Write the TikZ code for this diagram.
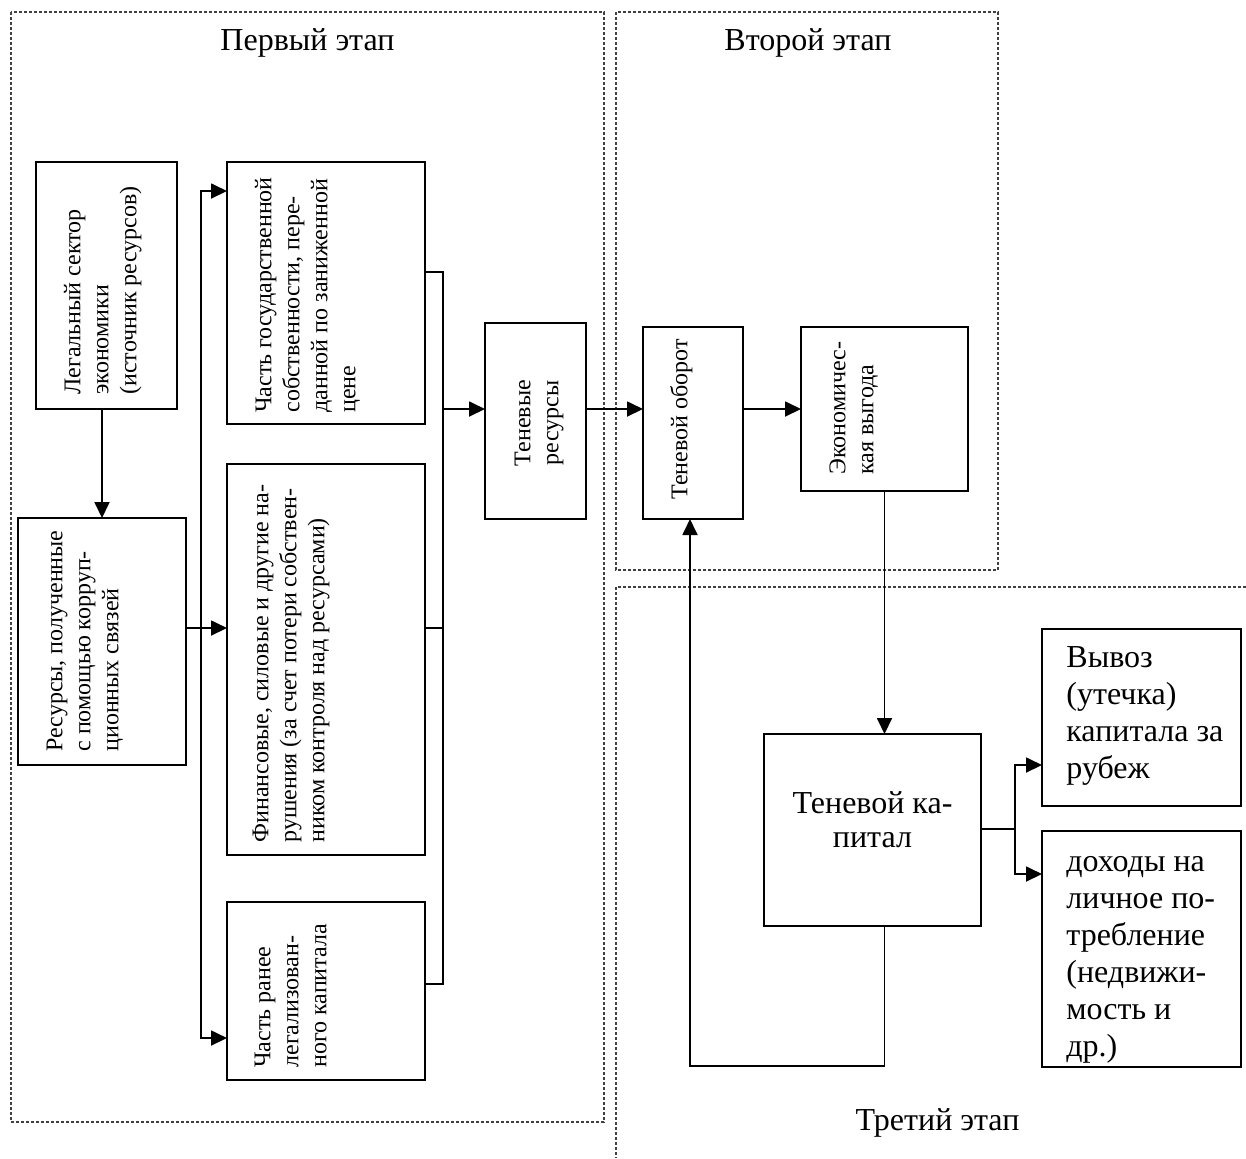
\documentclass[tikz,border=0pt]{standalone}
\usepackage{fontspec}
\setmainfont{Liberation Serif}
\usetikzlibrary{arrows.meta}
\begin{document}
\begin{tikzpicture}[x=0.5pt,y=-0.5pt,
  box/.style={draw, line width=1pt, inner sep=0pt, outer sep=0pt, anchor=north west},
  rtext/.style={rotate=90, anchor=north west, inner sep=0pt, align=left, font=\fontsize{12}{14}\selectfont},
  htext/.style={inner sep=0pt, align=left, anchor=north west, font=\fontsize{16}{18.5}\selectfont},
  conn/.style={line width=0.9pt},
  arr/.style={conn, -{Triangle[length=8pt,width=7.5pt]}},
  stageframe/.style={line width=0.6pt, dash pattern=on 1.5pt off 1pt, black!75},
  stagetitle/.style={font=\fontsize{16}{18}\selectfont, anchor=base, inner sep=0pt}]

\useasboundingbox (0,0) rectangle (1246,1158);

% stage frames
\draw[stageframe] (11,12) rectangle (604,1122);
\draw[stageframe] (616,12) rectangle (998,570);
\draw[stageframe] (1246,587) -- (616,587) -- (616,1158);

% titles
\node[stagetitle] (t1) at (307.5,50) {Первый этап};
\node[stagetitle] (t2) at (808,50) {Второй этап};
\node[stagetitle] (t3) at (937.5,1130) {Третий этап};

% boxes
\node[box, minimum width={141*0.5pt}, minimum height={247*0.5pt}] (legal) at (36,162) {};
\node[box, minimum width={168*0.5pt}, minimum height={247*0.5pt}] (res) at (18,518) {};
\node[box, minimum width={198*0.5pt}, minimum height={262*0.5pt}] (state) at (227,162) {};
\node[box, minimum width={198*0.5pt}, minimum height={391*0.5pt}] (fin) at (227,464) {};
\node[box, minimum width={198*0.5pt}, minimum height={178*0.5pt}] (part) at (227,902) {};
\node[box, minimum width={101*0.5pt}, minimum height={196*0.5pt}] (shres) at (485,323) {};
\node[box, minimum width={100*0.5pt}, minimum height={192*0.5pt}] (turn) at (643,327) {};
\node[box, minimum width={167*0.5pt}, minimum height={164*0.5pt}] (econ) at (801,327) {};
\node[box, minimum width={217*0.5pt}, minimum height={192*0.5pt}] (cap) at (764,734) {};
\node[box, minimum width={199*0.5pt}, minimum height={177*0.5pt}] (exp) at (1042,629) {};
\node[box, minimum width={199*0.5pt}, minimum height={236*0.5pt}] (inc) at (1042,831) {};

% texts
\node[rtext] (tlegal) at (60.4,395) {\strut Легальный сектор\\экономики\\(источник ресурсов)};
\node[rtext] (tres) at (42.4,752) {\strut Ресурсы, полученные\\с помощью корруп-\\ционных связей};
\node[rtext] (tstate) at (251.4,413) {\strut Часть государственной\\собственности, пере-\\данной по заниженной\\цене};
\node[rtext] (tfin) at (248.4,843) {\strut Финансовые, силовые и другие на-\\рушения (за счет потери собствен-\\ником контроля над ресурсами)};
\node[rtext] (tpart) at (250.4,1068) {\strut Часть ранее\\легализован-\\ного капитала};
\node[rtext, align=center, anchor=north] (tshres) at (510.4,423) {\strut Теневые\\ресурсы};
\node[rtext] (tturn) at (667.4,500) {\strut Теневой оборот};
\node[rtext] (tecon) at (825.4,475) {\strut Экономичес-\\кая выгода};
\node[htext, align=center, anchor=north, font=\fontsize{16}{17}\selectfont] (tcap) at (872.5,789) {\strut Теневой ка-\\питал};
\node[htext] (texp) at (1066,641) {\strut Вывоз\\(утечка)\\капитала за\\рубеж};
\node[htext] (tinc) at (1066,845) {\strut доходы на\\личное по-\\требление\\(недвижи-\\мость и\\др.)};

% helper coordinates
\coordinate (busL) at (201,628);
\coordinate (a3) at (227,191);
\coordinate (a5) at (227,1038);
\coordinate (busR) at (443,409);
\coordinate (o3) at (425,272);
\coordinate (o4) at (425,628);
\coordinate (o5) at (425,984);
\coordinate (lb) at (690,1066);
\coordinate (br) at (1015,829);
\coordinate (e1) at (1042,765);
\coordinate (e2) at (1042,874);

% connectors
\draw[arr] (res.north |- legal.south) -- (res.north);
\draw[arr] (res.east |- busL) -- (fin.west |- busL);
\draw[arr] (busL) |- (a3);
\draw[arr] (busL) |- (a5);
\draw[conn] (o3) -| (busR);
\draw[conn] (o5) -| (busR);
\draw[conn] (o4) -- (o4 -| busR);
\draw[arr] (busR) -- (shres.west |- busR);
\draw[arr] (shres.east |- busR) -- (turn.west |- busR);
\draw[arr] (turn.east |- busR) -- (econ.west |- busR);
\draw[arr] (econ.south) -- (econ.south |- cap.north);
\draw[arr] (cap.south -| econ.south) |- (lb) -- (lb |- turn.south);
\draw[conn] (cap.east |- br) -- (br);
\draw[arr] (br) |- (e1);
\draw[arr] (br) |- (e2);
\end{tikzpicture}
\end{document}
